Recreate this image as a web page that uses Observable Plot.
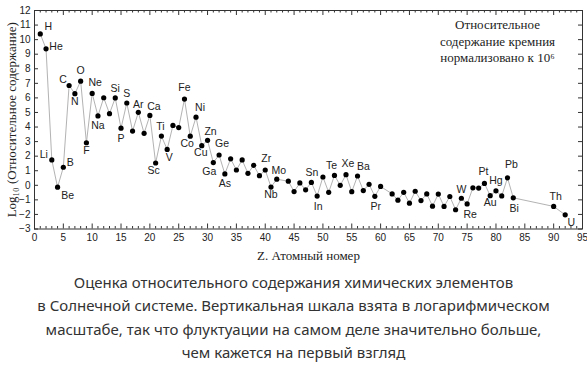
<!DOCTYPE html>
<html>
<head>
<meta charset="utf-8">
<script src="https://cdn.jsdelivr.net/npm/d3@7"></script>
<script src="https://cdn.jsdelivr.net/npm/@observablehq/plot@0.6"></script>
<style>
  body { margin: 0; background: #fff; width: 587px; }
  #chart svg { display: block; }
  g[aria-label="y-axis label"] text,
  g[aria-label="x-axis label"] text { font-family: "Liberation Serif", "DejaVu Serif", serif; font-size: 13px; fill: #222; }
  #caption { font-family: "Noto Sans", sans-serif; font-size: 15px; line-height: 23.3px; text-align: center; color: #333; padding-top: 3px; }
</style>
</head>
<body>
<div id="chart"></div>
<div id="caption">Оценка относительного содержания химических элементов<br>в Солнечной системе. Вертикальная шкала взята в логарифмическом<br>масштабе, так что флуктуации на самом деле значительно больше,<br>чем кажется на первый взгляд</div>
<script>
// ---- data ----
const atomicNumbers = [1,2,3,4,5,6,7,8,9,10,11,12,13,14,15,16,17,18,19,20,21,22,23,24,25,26,27,28,29,30,31,32,33,34,35,36,37,38,39,40,41,42,44,45,46,47,48,49,50,51,52,53,54,55,56,57,58,59,60,62,63,64,65,66,67,68,69,70,71,72,73,74,75,76,77,78,79,80,81,82,83,90,92];
const elements = ["H","He","Li","Be","B","C","N","O","F","Ne","Na","Mg","Al","Si","P","S","Cl","Ar","K","Ca","Sc","Ti","V","Cr","Mn","Fe","Co","Ni","Cu","Zn","Ga","Ge","As","Se","Br","Kr","Rb","Sr","Y","Zr","Nb","Mo","Ru","Rh","Pd","Ag","Cd","In","Sn","Sb","Te","I","Xe","Cs","Ba","La","Ce","Pr","Nd","Sm","Eu","Gd","Tb","Dy","Ho","Er","Tm","Yb","Lu","Hf","Ta","W","Re","Os","Ir","Pt","Au","Hg","Tl","Pb","Bi","Th","U"];
const logAbundance = [10.39,9.37,1.74,-0.13,1.24,6.85,6.29,7.15,2.92,6.31,4.76,6.01,4.92,6.00,3.92,5.65,3.72,5.01,3.57,4.80,1.53,3.38,2.46,4.11,3.96,5.92,3.37,4.68,2.72,3.09,1.56,2.08,0.78,1.82,1.05,1.74,0.82,1.37,0.66,1.05,-0.12,0.42,0.28,-0.43,0.16,-0.31,0.20,-0.74,0.57,-0.48,0.68,0.00,0.73,-0.44,0.64,-0.36,0.07,-0.76,-0.08,-0.59,-1.02,-0.48,-1.23,-0.41,-1.05,-0.59,-1.43,-0.60,-1.45,-0.77,-1.68,-0.89,-1.28,-0.17,-0.19,0.13,-0.71,-0.38,-0.73,0.51,-0.86,-1.45,-2.03];
const labeledElements = ["H","He","Li","Be","B","C","N","O","F","Ne","Na","Si","P","S","Ar","Ca","Sc","Ti","V","Fe","Co","Ni","Cu","Zn","Ga","Ge","As","Zr","Nb","Mo","Sn","In","Te","Xe","Ba","Pr","W","Re","Pt","Au","Hg","Pb","Bi","Th","U"];
const xTickValues = [0,5,10,15,20,25,30,35,40,45,50,55,60,65,70,75,80,85,90,95];
const yTickValues = [-3,-2,-1,0,1,2,3,4,5,6,7,8,9,10,11,12];
const xTitle = "Z. Атомный номер";
const yTitle = "Log₁₀ (Относительное содержание)";
const annotation = "Относительное\nсодержание кремния\nнормализовано к 10⁶";

// ---- layout / styling (not data) ----
const W = 587, H = 268, mt = 10, mb = 39.5, ml = 34, mr = 5;
const innerH = H - mt - mb, innerW = W - ml - mr;
const labelOffsets = {
  H:[8,-7], He:[10,-2], Li:[-8,-5], Be:[10,8], B:[7,-5], C:[-6,-6], N:[0,8], O:[0,-11], F:[0,8],
  Ne:[3,-11], Na:[0,10], Si:[0,-9], P:[0,10], S:[0,-9], Ar:[0,-8], Ca:[4,-9], Sc:[-2,8], Ti:[-1,-9],
  V:[2,8], Fe:[0,-11], Co:[-3,7], Ni:[4,-10], Cu:[-1,7], Zn:[3,-9], Ga:[-4,9], Ge:[3,-11], As:[0,10],
  Zr:[1,-11], Nb:[0,8], Mo:[2,-9], Sn:[-11,-4], In:[1,11], Te:[-3,-10], Xe:[2,-11], Ba:[6,-9],
  Pr:[1,10], W:[0,-9], Re:[3,11], Pt:[-1,-12], Au:[0,7], Hg:[0,-10], Pb:[4,-13], Bi:[1,11], Th:[2,-10], U:[6,8]
};

const rows = atomicNumbers.map((z, i) => ({ z, v: logAbundance[i], s: elements[i] }));
const xMinor = d3.range(0, 96).filter(d => d % 5 !== 0);
const axisColor = "#333";

const labelMarks = labeledElements.map(sym => {
  const [dx, dy] = labelOffsets[sym];
  return Plot.text(rows.filter(r => r.s === sym), {
    x: "z", y: "v", text: "s", dx, dy,
    fontFamily: "Liberation Sans, Arial, sans-serif", fontSize: 10.5, fill: "#222"
  });
});

const chart = Plot.plot({
  width: W, height: H,
  marginTop: mt, marginBottom: mb, marginLeft: ml, marginRight: mr,
  style: { fontFamily: "Liberation Sans, Arial, sans-serif", fontSize: "10px", color: "#222", background: "#fff" },
  x: { domain: [0, 95] },
  y: { domain: [-3, 12] },
  marks: [
    Plot.frame({ stroke: axisColor }),
    Plot.tickX(xMinor, { x: d => d, insetTop: innerH - 2.5, stroke: axisColor }),
    Plot.tickX(xTickValues, { x: d => d, insetTop: innerH - 5, stroke: axisColor }),
    Plot.tickX(xMinor, { x: d => d, insetBottom: innerH - 2.5, stroke: axisColor }),
    Plot.tickX(xTickValues, { x: d => d, insetBottom: innerH - 5, stroke: axisColor }),
    Plot.tickY(yTickValues, { y: d => d, insetRight: innerW - 4, stroke: axisColor }),
    Plot.tickY(yTickValues, { y: d => d, insetLeft: innerW - 4, stroke: axisColor }),
    Plot.axisX(xTickValues, { tickSize: 0, tickPadding: 5, label: xTitle, labelAnchor: "center", labelOffset: 31, labelArrow: false, fill: "#222" }),
    Plot.axisY(yTickValues, { tickSize: 0, tickPadding: 4, label: yTitle, labelAnchor: "center", labelOffset: 28, labelArrow: false, fill: "#222" }),
    Plot.line(rows, { x: "z", y: "v", stroke: "#b3b3b3", strokeWidth: 1 }),
    Plot.dot(rows, { x: "z", y: "v", r: 2.6, fill: "#000", stroke: "none" }),
    ...labelMarks,
    Plot.text([annotation], {
      text: d => d, frameAnchor: "top-right", dx: -85, dy: 7,
      textAnchor: "middle", lineAnchor: "top", lineHeight: 1.27,
      fontFamily: "Liberation Serif, DejaVu Serif, serif", fontSize: 13, fill: "#222"
    })
  ]
});
document.getElementById("chart").appendChild(chart);
</script>
</body>
</html>
